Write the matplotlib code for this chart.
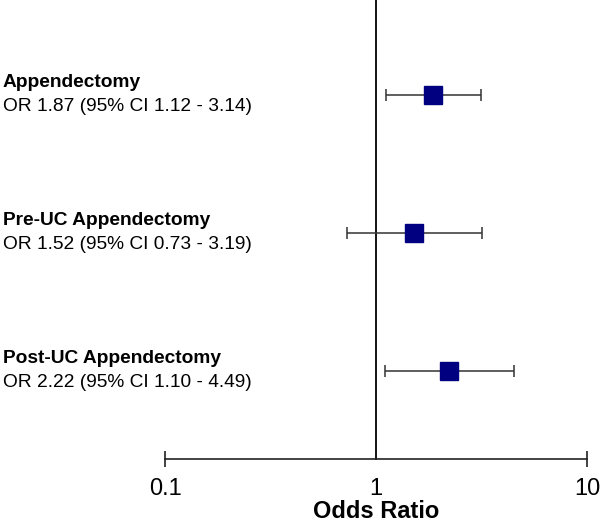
import numpy as np
import matplotlib; matplotlib.use("Agg")
import matplotlib.pyplot as plt

plt.rcParams['font.family'] = ['Liberation Sans', 'DejaVu Sans']

# data
NAMES = ["Appendectomy", "Pre-UC Appendectomy", "Post-UC Appendectomy"]
OR = [1.87, 1.52, 2.22]
CI_LO = [1.12, 0.73, 1.10]
CI_HI = [3.14, 3.19, 4.49]
XTICKS = [0.1, 1, 10]
XTICK_LABELS = ["0.1", "1", "10"]

fig = plt.figure(figsize=(6.0, 5.26), dpi=100)
ax = fig.add_axes([165/600, 67/526, 422/600, 459/526])

ypos = np.arange(len(NAMES))[::-1] + 1.0
ax.set_xscale("log")
ax.set_xlim(0.1, 10)
ax.set_ylim(1 - 88/138, 1 + 371/138)

# reference line at OR = 1
ax.axvline(1, color="black", lw=1.3, clip_on=False, zorder=1)

for y, o, lo, hi in zip(ypos, OR, CI_LO, CI_HI):
    ax.errorbar(o, y, xerr=[[o - lo], [hi - o]], fmt="none", ecolor="#333333",
                elinewidth=1.1, capsize=4, capthick=1.1, zorder=2)
    ax.plot(o, y, marker="s", ms=12.5, color="#000080", mec="#000080", zorder=3)

for y, name, o, lo, hi in zip(ypos, NAMES, OR, CI_LO, CI_HI):
    ax.annotate(name, xy=(0.005, y), xycoords=("figure fraction", "data"),
                xytext=(0, 9), textcoords="offset points", fontsize=13.8,
                fontweight="bold", ha="left", va="center")
    ax.annotate(f"OR {o:.2f} (95% CI {lo:.2f} - {hi:.2f})", xy=(0.005, y),
                xycoords=("figure fraction", "data"), xytext=(0, -8.5),
                textcoords="offset points", fontsize=13.8, ha="left", va="center")

for s in ["top", "right", "left"]:
    ax.spines[s].set_visible(False)
ax.spines["bottom"].set_color("#222222")
ax.spines["bottom"].set_linewidth(1.2)
ax.set_yticks([])
ax.set_xticks(XTICKS)
ax.set_xticklabels(XTICK_LABELS, fontsize=17)
ax.xaxis.set_minor_locator(matplotlib.ticker.NullLocator())
ax.tick_params(axis="x", direction="inout", length=12, width=1.2, color="#222222", pad=7.5)
ax.xaxis.get_major_ticks()[1].tick1line.set_visible(False)
ax.set_xlabel("Odds Ratio", fontsize=17, fontweight="bold", labelpad=0.5)

fig.savefig("out.png", dpi=100)
